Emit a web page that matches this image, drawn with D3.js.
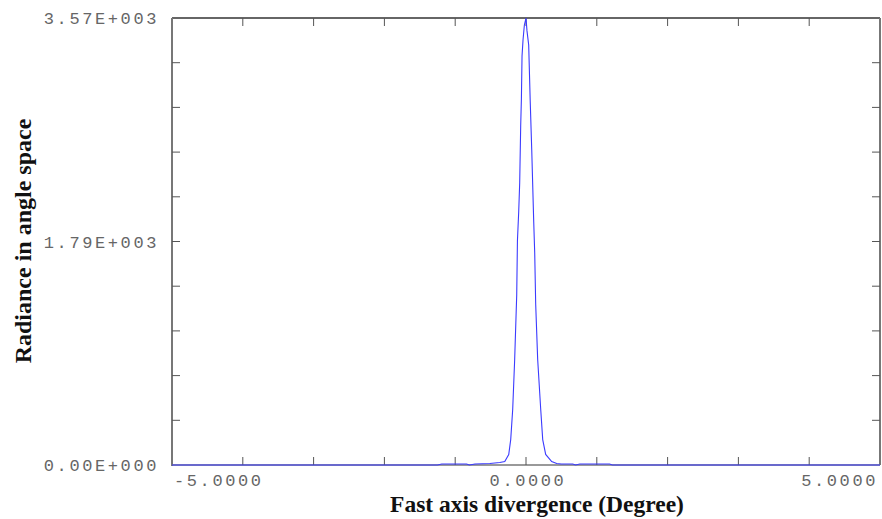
<!DOCTYPE html>
<html>
<head>
<meta charset="utf-8">
<script src="https://cdn.jsdelivr.net/npm/d3@7"></script>
<style>
  body { margin: 0; background: #fff; }
  svg { display: block; }
</style>
</head>
<body>
<div id="chart"></div>
<script>
// divergence angle (degree)
const angle = [-5, -1.25, -1.19, -0.84, -0.80, -0.72, -0.51, -0.37, -0.30, -0.244, -0.216, -0.188,
  -0.160, -0.131, -0.121, -0.103, -0.089, -0.075, -0.065, -0.056, -0.042, -0.023, 0,
  0.014, 0.038, 0.059, 0.081, 0.109, 0.123, 0.137, 0.165, 0.208, 0.236, 0.278, 0.363,
  0.434, 0.50, 0.66, 0.70, 0.76, 1.18, 1.22, 5];
// radiance in angle space
const radiance = [0, 0, 8, 8, 0, 8, 12, 20, 28, 84, 203, 443,
  842, 1360, 1791, 2022, 2254, 2708, 2924, 3267, 3394, 3514, 3570,
  3467, 3354, 2916, 2517, 1943, 1695, 1281, 842, 443, 203, 84, 28,
  12, 8, 8, 0, 8, 8, 0, 0];

const xTicks = d3.range(-5, 5.01, 1);
const xLabels = [-5, 0, 5];
const yMax = 3570;
const yTicks = d3.range(0, 11).map(i => i * yMax / 10);
const yLabels = ["0.00E+000", "1.79E+003", "3.57E+003"];

const width = 882, height = 519;
const plotL = 172, plotR = 880, plotT = 18, plotB = 465;

const svg = d3.select('#chart').append('svg')
    .attr('width', width)
    .attr('height', height);

const x = d3.scaleLinear().domain([-5, 5]).range([plotL, plotR]);
const y = d3.scaleLinear().domain([0, yMax]).range([plotB, plotT]);

const axisColor = '#777';

// frame
svg.append('line').attr('x1', plotL).attr('x2', plotR).attr('y1', plotT).attr('y2', plotT)
    .attr('stroke', '#333').attr('stroke-width', 1.5);
svg.append('line').attr('x1', plotR).attr('x2', plotR).attr('y1', plotT).attr('y2', plotB)
    .attr('stroke', axisColor).attr('stroke-width', 2);
svg.append('line').attr('x1', plotL).attr('x2', plotL).attr('y1', plotT).attr('y2', plotB + 1)
    .attr('stroke', axisColor).attr('stroke-width', 2);
svg.append('line').attr('x1', plotL).attr('x2', plotR).attr('y1', plotB).attr('y2', plotB)
    .attr('stroke', axisColor).attr('stroke-width', 1.5);

// inward ticks on all four sides
const tickLen = 8;
svg.selectAll('.xtb').data(xTicks.slice(1, -1)).enter().append('line')
    .attr('x1', d => x(d)).attr('x2', d => x(d))
    .attr('y1', plotB).attr('y2', plotB - tickLen)
    .attr('stroke', '#555').attr('stroke-width', 1);
svg.selectAll('.xtt').data(xTicks.slice(1, -1)).enter().append('line')
    .attr('x1', d => x(d)).attr('x2', d => x(d))
    .attr('y1', plotT).attr('y2', plotT + tickLen)
    .attr('stroke', '#555').attr('stroke-width', 1);
svg.selectAll('.ytl').data(yTicks.slice(1, -1)).enter().append('line')
    .attr('x1', plotL).attr('x2', plotL + tickLen)
    .attr('y1', d => y(d)).attr('y2', d => y(d))
    .attr('stroke', '#555').attr('stroke-width', 1);
svg.selectAll('.ytr').data(yTicks.slice(1, -1)).enter().append('line')
    .attr('x1', plotR).attr('x2', plotR - tickLen)
    .attr('y1', d => y(d)).attr('y2', d => y(d))
    .attr('stroke', '#555').attr('stroke-width', 1);

// tick labels
const tickFont = '"Liberation Mono", "DejaVu Sans Mono", monospace';
svg.selectAll('.ylab').data(yLabels).enter().append('text')
    .attr('x', plotL - 13)
    .attr('y', (d, i) => y(i * yMax / 2))
    .attr('dy', '0.36em')
    .attr('text-anchor', 'end')
    .attr('font-family', tickFont)
    .attr('font-size', 17)
    .attr('letter-spacing', 2.6)
    .attr('fill', '#666')
    .text(d => d);

svg.selectAll('.xlab').data(xLabels).enter().append('text')
    .attr('x', (d, i) => x(d) + (i === 0 ? 2 : i === 2 ? -2 : 2))
    .attr('y', plotB + 21)
    .attr('text-anchor', (d, i) => i === 0 ? 'start' : i === 2 ? 'end' : 'middle')
    .attr('font-family', tickFont)
    .attr('font-size', 17)
    .attr('letter-spacing', 2.6)
    .attr('fill', '#666')
    .text(d => d.toFixed(4));

// curve
const pts = angle.map((a, i) => [a, radiance[i]]);
const line = d3.line().x(d => x(d[0])).y(d => y(d[1]));
svg.append('path')
    .datum(pts)
    .attr('d', line)
    .attr('fill', 'none')
    .attr('stroke', '#3b3bff')
    .attr('stroke-width', 1.1);

// axis titles
svg.append('text')
    .attr('x', 537)
    .attr('y', 512)
    .attr('text-anchor', 'middle')
    .attr('font-family', '"Liberation Serif", "Times New Roman", serif')
    .attr('font-weight', 'bold')
    .attr('font-size', 23.5)
    .attr('fill', '#111')
    .text('Fast axis divergence (Degree)');

svg.append('text')
    .attr('transform', 'translate(31,241) rotate(-90)')
    .attr('text-anchor', 'middle')
    .attr('font-family', '"Liberation Serif", "Times New Roman", serif')
    .attr('font-weight', 'bold')
    .attr('font-size', 24)
    .attr('fill', '#111')
    .text('Radiance in angle space');
</script>
</body>
</html>
